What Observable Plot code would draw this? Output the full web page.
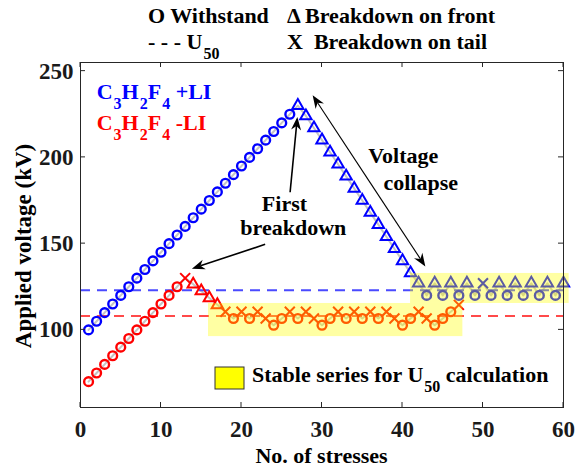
<!DOCTYPE html>
<html>
<head>
<meta charset="utf-8">
<script src="https://cdn.jsdelivr.net/npm/d3@7"></script>
<script src="https://cdn.jsdelivr.net/npm/@observablehq/plot@0.6"></script>
<style>
  html, body { margin: 0; padding: 0; background: #fff; }
  #chart svg { display: block; }
</style>
</head>
<body>
<div id="chart"></div>
<script>
// ---------------- data ----------------
const xTicks = [0, 10, 20, 30, 40, 50, 60];
const yTicks = [100, 150, 200, 250];

// C3H2F4 +LI
const posStress = [1,2,3,4,5,6,7,8,9,10,11,12,13,14,15,16,17,18,19,20,21,22,23,24,25,26,27,28,29,30,31,32,33,34,35,36,37,38,39,40,41,42,43,44,45,46,47,48,49,50,51,52,53,54,55,56,57,58,59,60];
const posVoltage = [100,105,110,115,120,125,130,135,140,145,150,155,160,165,170,175,180,185,190,195,200,205,210,215,220,225,
  230,224,217,210,203,196,189,182,175,168,161,154,147,140,133,
  127,120,127,120,127,120,127,120,127,120,127,120,127,120,127,120,127,120,127];
const posOutcome = ["O","O","O","O","O","O","O","O","O","O","O","O","O","O","O","O","O","O","O","O","O","O","O","O","O","O",
  "T","T","T","T","T","T","T","T","T","T","T","T","T","T","T",
  "T","O","T","O","T","O","T","O","X","O","T","O","T","O","T","O","T","O","T"];

// C3H2F4 -LI
const negStress = [1,2,3,4,5,6,7,8,9,10,11,12,13,14,15,16,17,18,19,20,21,22,23,24,25,26,27,28,29,30,31,32,33,34,35,36,37,38,39,40,41,42,43,44,45,46,47];
const negVoltage = [70,75,80,85,90,95,100,105,110,115,120,125,
  130,126.5,122.5,118.5,114.5,
  110.5,106.6,110.5,106.6,110.5,106.6,102.7,106.6,110.5,106.6,110.5,106.6,102.7,106.6,110.5,106.6,110.5,106.6,110.5,106.6,110.5,106.6,102.7,106.6,110.5,106.6,102.7,106.6,110.5,114.5];
const negOutcome = ["O","O","O","O","O","O","O","O","O","O","O","O",
  "X","T","T","T","T",
  "X","O","X","O","X","X","O","O","X","O","X","X","O","O","X","O","X","O","X","O","X","X","O","O","X","X","O","O","O","X"];

const u50Values = [123, 108];          // +LI, -LI
const seriesColors = ["#0000ff", "#ff0000"];
const u50Colors = ["#4a4aff", "#ff4a4a"];

// stable-series highlight boxes (-LI, +LI)
const stableX1 = [15.9, 41.0];
const stableX2 = [47.5, 60.7];
const stableY1 = [96.1, 115.3];
const stableY2 = [115.3, 132.7];

// annotation arrows (data coordinates): [from, to]
const arrowX1 = [26.1, 23.0, 35.9, 35.9];
const arrowY1 = [179.5, 149.3, 186.1, 186.1];
const arrowX2 = [27.0, 13.9, 28.9, 42.9];
const arrowY2 = [223.1, 135.2, 235.7, 136.5];
const arrowWidth = [1.6, 1.6, 1.1, 1.1];

// ---------------- build tables ----------------
const pos = posStress.map((s, i) => ({x: s, v: posVoltage[i], o: posOutcome[i]}));
const neg = negStress.map((s, i) => ({x: s, v: negVoltage[i], o: negOutcome[i]}));
const boxes = stableX1.map((d, i) => ({x1: d, x2: stableX2[i], y1: stableY1[i], y2: stableY2[i]}));
const arrows = arrowX1.map((d, i) => ({x1: d, y1: arrowY1[i], x2: arrowX2[i], y2: arrowY2[i], w: arrowWidth[i]}));

const FONT = '"Liberation Serif","Times New Roman",Times,serif';
const SUB_SIZE = 16, SUB_SHIFT = 10;

// rich text (with subscripts) as a Plot render-function mark
function richText(items) {
  return (index, scales, values, dims) => {
    const g = d3.create("svg:g")
      .attr("font-family", FONT).attr("font-weight", "bold");
    for (const it of items) {
      const X = it.px != null ? it.px : scales.x(it.x);
      const Y = it.py != null ? it.py : scales.y(it.y);
      const t = g.append("text")
        .attr("x", X).attr("y", Y)
        .attr("fill", it.fill || "#000")
        .attr("font-size", it.size || 22)
        .attr("text-anchor", it.anchor || "start")
        .style("white-space", "pre");
      if (it.rotate) t.attr("transform", `rotate(${it.rotate},${X},${Y})`);
      let shift = 0;
      for (const [s, sub] of it.parts) {
        const target = sub ? SUB_SHIFT : 0;
        const sp = t.append("tspan").attr("dy", target - shift).text(s);
        if (sub) sp.attr("font-size", SUB_SIZE).attr("dx", 1);
        shift = target;
      }
    }
    return g.node();
  };
}

// inward ticks on all four sides
function innerTicks(len) {
  return (index, scales, values, dims) => {
    const {width, height, marginLeft, marginRight, marginTop, marginBottom} = dims;
    const L = marginLeft, R = width - marginRight, T = marginTop, B = height - marginBottom;
    const g = d3.create("svg:g").attr("stroke", "#262626").attr("stroke-width", 1);
    for (const v of xTicks) {
      const p = scales.x(v);
      g.append("line").attr("x1", p).attr("x2", p).attr("y1", B).attr("y2", B - len);
      g.append("line").attr("x1", p).attr("x2", p).attr("y1", T).attr("y2", T + len);
    }
    for (const v of yTicks) {
      const p = scales.y(v);
      g.append("line").attr("y1", p).attr("y2", p).attr("x1", L).attr("x2", L + len);
      g.append("line").attr("y1", p).attr("y2", p).attr("x1", R).attr("x2", R - len);
    }
    return g.node();
  };
}

// arrows with filled, notched heads (positions via the plot's scales)
function filledArrows(rows, headLen, headHalf, notch) {
  return (index, scales, values, dims) => {
    const g = d3.create("svg:g");
    for (const a of rows) {
      const x1 = scales.x(a.x1), y1 = scales.y(a.y1), x2 = scales.x(a.x2), y2 = scales.y(a.y2);
      const dx = x2 - x1, dy = y2 - y1, L = Math.hypot(dx, dy);
      const ux = dx / L, uy = dy / L, nx = -uy, ny = ux;
      const bx = x2 - ux * headLen, by = y2 - uy * headLen;
      const mx = x2 - ux * notch, my = y2 - uy * notch;
      g.append("line").attr("x1", x1).attr("y1", y1).attr("x2", mx).attr("y2", my)
        .attr("stroke", "#000").attr("stroke-width", a.w);
      g.append("path")
        .attr("d", `M${x2},${y2}L${bx + nx * headHalf},${by + ny * headHalf}L${mx},${my}L${bx - nx * headHalf},${by - ny * headHalf}Z`)
        .attr("fill", "#000");
    }
    return g.node();
  };
}

// legend glyph square (pixel space)
function legendSquare() {
  return () => d3.create("svg:rect")
      .attr("x", 215).attr("y", 367).attr("width", 29).attr("height", 22)
      .attr("fill", "#ffff00").attr("stroke", "#333").attr("stroke-width", 1)
      .node();
}

const dotsFor = (rows, color) => [
  Plot.dot(rows.filter(d => d.o === "O"), {x: "x", y: "v", r: 4.4, symbol: "circle", fill: "none", stroke: color, strokeWidth: 2.4}),
  Plot.dot(rows.filter(d => d.o === "T"), {x: "x", y: "v", r: 4.2, symbol: "triangle", fill: "none", stroke: color, strokeWidth: 2}),
  Plot.dot(rows.filter(d => d.o === "X"), {x: "x", y: "v", r: 4.6, symbol: "times", fill: "none", stroke: color, strokeWidth: 2})
];

const chart = Plot.plot({
  width: 583,
  height: 468,
  marginLeft: 80,
  marginRight: 20,
  marginTop: 62,
  marginBottom: 61,
  style: {fontFamily: FONT, fontSize: "23px", fontWeight: "bold", color: "#1a1a1a", background: "#fff"},
  x: {domain: [0, 60], ticks: xTicks},
  y: {domain: [55, 255], ticks: yTicks},
  marks: [
    Plot.axisX({ticks: xTicks, tickSize: 0, tickPadding: 13, label: null}),
    Plot.axisY({ticks: yTicks, tickSize: 0, tickPadding: 7, label: null}),
    // connecting lines
    Plot.line(pos, {x: "x", y: "v", stroke: "#c4c4c4", strokeWidth: 2}),
    Plot.line(neg, {x: "x", y: "v", stroke: "#c4c4c4", strokeWidth: 2}),
    // U50 dashed lines
    Plot.ruleY(u50Values, {x1: 0, x2: 60, stroke: (d, i) => u50Colors[i], strokeWidth: 2, strokeDasharray: "10,7"}),
    // markers
    ...dotsFor(neg, seriesColors[1]),
    ...dotsFor(pos, seriesColors[0]),
    // stable series highlight (semi-transparent, over markers)
    Plot.rect(boxes, {x1: "x1", x2: "x2", y1: "y1", y2: "y2", fill: "#ffff00", fillOpacity: 0.36, clip: false}),
    // frame and ticks
    Plot.frame({stroke: "#262626", strokeWidth: 1}),
    innerTicks(5),
    // arrows
    filledArrows(arrows, 13, 5, 9),
    // texts
    richText([
      {x: 2.07, y: 233.3, fill: seriesColors[0], parts: [["C",0],["3",1],["H",0],["2",1],["F",0],["4",1],[" +LI",0]]},
      {x: 2.07, y: 215.4, fill: seriesColors[1], parts: [["C",0],["3",1],["H",0],["2",1],["F",0],["4",1],[" -LI",0]]},
      {x: 25.4, y: 168.6, anchor: "middle", parts: [["First",0]]},
      {x: 26.5, y: 154.5, anchor: "middle", parts: [["breakdown",0]]},
      {x: 35.8, y: 196.3, parts: [["Voltage",0]]},
      {x: 37.7, y: 180.9, parts: [["collapse",0]]},
      // top legend
      {px: 148, py: 23, parts: [["O Withstand",0]]},
      {px: 287, py: 23, parts: [["\u0394 Breakdown on front",0]]},
      {px: 148, py: 49, parts: [["- - - U",0],["50",1]]},
      {px: 287, py: 49, parts: [["X  Breakdown on tail",0]]},
      // bottom legend
      {px: 252, py: 382, parts: [["Stable series for U",0],["50",1],[" calculation",0]]},
      // axis labels
      {px: 321.5, py: 463, anchor: "middle", parts: [["No. of stresses",0]]},
      {px: 31, py: 246, anchor: "middle", rotate: -90, size: 23, parts: [["Applied voltage (kV)",0]]}
    ]),
    legendSquare()
  ]
});

document.getElementById("chart").appendChild(chart);
</script>
</body>
</html>
